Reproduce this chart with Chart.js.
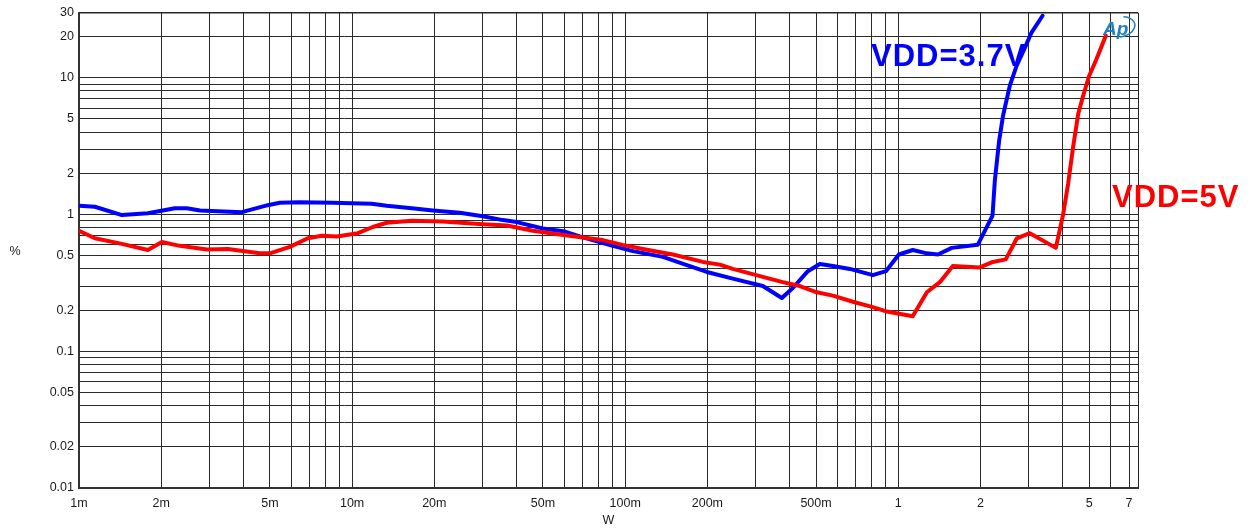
<!DOCTYPE html>
<html>
<head>
<meta charset="utf-8">
<script src="https://cdn.jsdelivr.net/npm/chart.js@4/dist/chart.umd.min.js"></script>
<style>
  html, body { margin: 0; padding: 0; background: #fff; }
  #wrap { width: 1253px; height: 529px; }
</style>
</head>
<body>
<div id="wrap"><canvas id="thd"></canvas></div>
<script>
// output power (W) vs THD+N (%)
var vdd37Watts = [0.001, 0.001143, 0.001436, 0.001787, 0.002244, 0.002483, 0.002773, 0.003948, 0.004909, 0.005431,
  0.006427, 0.008492, 0.009954, 0.0118, 0.01339, 0.01655, 0.01977, 0.02479, 0.0301, 0.03565,
  0.04011, 0.04996, 0.06016, 0.06999, 0.09013, 0.1067, 0.1374, 0.1725, 0.1991, 0.2478,
  0.3192, 0.3748, 0.4111, 0.4667, 0.5164, 0.5764, 0.6652, 0.8072, 0.9012, 1.005,
  1.13, 1.273, 1.397, 1.571, 1.955, 2.214, 2.258, 2.341, 2.42, 2.562, 2.711, 2.91, 3.076, 3.376];
var vdd37Thd = [1.16, 1.14, 0.99, 1.02, 1.11, 1.11, 1.07, 1.04, 1.17, 1.22,
  1.23, 1.22, 1.21, 1.20, 1.16, 1.11, 1.07, 1.03, 0.97, 0.91,
  0.88, 0.79, 0.75, 0.68, 0.59, 0.54, 0.49, 0.42, 0.38, 0.34,
  0.30, 0.245, 0.29, 0.385, 0.435, 0.42, 0.40, 0.36, 0.385, 0.51,
  0.55, 0.52, 0.51, 0.57, 0.60, 0.98, 1.77, 3.46, 5.3, 8.75, 12.2, 16.6, 21.4, 28.4];

var vdd5Watts = [0.001, 0.001143, 0.001436, 0.001787, 0.002012, 0.002339, 0.002938, 0.003507, 0.003981, 0.004594,
  0.004999, 0.005917, 0.006888, 0.007747, 0.008795, 0.0105, 0.01191, 0.01339, 0.01655, 0.02149,
  0.0301, 0.03687, 0.04592, 0.05569, 0.06999, 0.08279, 0.09795, 0.1161, 0.1495, 0.1926,
  0.2223, 0.2478, 0.3192, 0.3776, 0.436, 0.5032, 0.5764, 0.6823, 0.8072, 0.9085,
  1.13, 1.273, 1.42, 1.584, 1.989, 2.22, 2.476, 2.718, 3.033, 3.776,
  4.016, 4.187, 4.367, 4.56, 4.754, 5.0, 5.322, 5.754];
var vdd5Thd = [0.76, 0.67, 0.61, 0.55, 0.63, 0.59, 0.555, 0.56, 0.54, 0.52,
  0.52, 0.58, 0.67, 0.70, 0.69, 0.73, 0.81, 0.87, 0.90, 0.89,
  0.85, 0.83, 0.76, 0.72, 0.68, 0.65, 0.60, 0.56, 0.51, 0.45,
  0.43, 0.40, 0.35, 0.32, 0.30, 0.27, 0.255, 0.23, 0.21, 0.195,
  0.18, 0.27, 0.32, 0.42, 0.41, 0.45, 0.47, 0.67, 0.73, 0.57,
  1.0, 1.67, 3.1, 5.43, 7.39, 10.3, 13.7, 20.3];

var xTickValues = [0.001, 0.002, 0.005, 0.01, 0.02, 0.05, 0.1, 0.2, 0.5, 1, 2, 5, 7];
var xTickLabels = ['1m', '2m', '5m', '10m', '20m', '50m', '100m', '200m', '500m', '1', '2', '5', '7'];
var yTickValues = [0.01, 0.02, 0.05, 0.1, 0.2, 0.5, 1, 2, 5, 10, 20, 30];
var yTickLabels = ['0.01', '0.02', '0.05', '0.1', '0.2', '0.5', '1', '2', '5', '10', '20', '30'];

function pts(xs, ys) {
  return xs.map(function (x, i) { return { x: x, y: ys[i] }; });
}

// grid line at every 1..9 step of each decade
function decadeGrid(min, max) {
  var out = [];
  for (var e = Math.floor(Math.log10(min)); e <= Math.ceil(Math.log10(max)); e++) {
    for (var s = 1; s <= 9; s++) {
      var v = +(s * Math.pow(10, e)).toPrecision(6);
      if (v >= min - 1e-12 && v <= max + 1e-9) out.push(v);
    }
  }
  return out;
}

function labelFor(values, labels, v) {
  for (var i = 0; i < values.length; i++) {
    if (Math.abs(values[i] - v) / values[i] < 1e-6) return labels[i];
  }
  return '';
}

var xMin = 0.001, xMax = 7.55, yMin = 0.01, yMax = 30;
var tickFont = { family: 'Liberation Sans, Arial, sans-serif', size: 12.5 };

var decor = {
  id: 'decor',
  beforeDatasetsDraw: function (chart) {
    var a = chart.chartArea, c = chart.ctx;
    c.save();
    c.strokeStyle = '#222';
    c.lineWidth = 1;
    c.beginPath();
    c.moveTo(a.left, a.top + 0.5);
    c.lineTo(a.right + 0.5, a.top + 0.5);
    c.lineTo(a.right + 0.5, a.bottom);
    c.stroke();
    c.restore();
  },
  afterDraw: function (chart) {
    var c = chart.ctx;
    c.save();
    c.fillStyle = '#222';
    c.font = '12.5px Liberation Sans, Arial, sans-serif';
    c.textAlign = 'center';
    c.textBaseline = 'middle';
    c.fillText('%', 15, 252);

    c.textAlign = 'left';
    c.textBaseline = 'alphabetic';
    c.font = 'bold 31px Liberation Sans, Arial, sans-serif';
    c.letterSpacing = '1px';
    c.fillStyle = '#0000ff';
    c.fillText('VDD=3.7V', 871, 66);
    c.fillStyle = '#ff0000';
    c.fillText('VDD=5V', 1112, 207);
    c.letterSpacing = '0px';

    // Ap logo
    c.fillStyle = '#1f7fbf';
    c.strokeStyle = '#1f7fbf';
    c.font = 'italic bold 19px Liberation Sans, Arial, sans-serif';
    c.fillText('Ap', 1103, 35);
    c.lineWidth = 1.5;
    c.beginPath();
    c.ellipse(1120, 27, 15, 10, -0.2, -1.2, 1.7);
    c.stroke();
    c.restore();
  }
};

new Chart(document.getElementById('thd'), {
  type: 'line',
  data: {
    datasets: [
      {
        label: 'VDD=5V',
        data: pts(vdd5Watts, vdd5Thd),
        borderColor: '#ff0000',
        borderWidth: 4,
        pointRadius: 0,
        tension: 0,
        borderJoinStyle: 'round',
        borderCapStyle: 'round'
      },
      {
        label: 'VDD=3.7V',
        data: pts(vdd37Watts, vdd37Thd),
        borderColor: '#0000ff',
        borderWidth: 4,
        pointRadius: 0,
        tension: 0,
        borderJoinStyle: 'round',
        borderCapStyle: 'round'
      }
    ]
  },
  options: {
    responsive: true,
    maintainAspectRatio: false,
    animation: false,
    layout: { padding: { left: 0, right: 115, top: 12, bottom: 0 } },
    plugins: { legend: { display: false }, tooltip: { enabled: false } },
    scales: {
      x: {
        type: 'logarithmic',
        min: xMin,
        max: xMax,
        afterBuildTicks: function (s) { s.ticks = decadeGrid(xMin, xMax).map(function (v) { return { value: v }; }); },
        afterFit: function (s) { s.height = 41; },
        ticks: {
          autoSkip: false,
          maxRotation: 0,
          padding: 8,
          color: '#1a1a1a',
          font: tickFont,
          callback: function (v) { return labelFor(xTickValues, xTickLabels, v); }
        },
        grid: { color: '#2a2a2a', lineWidth: 1, drawTicks: false },
        border: { color: '#333', width: 2 },
        title: { display: true, text: 'W', color: '#1a1a1a', font: tickFont, padding: { top: 0, bottom: 1 } }
      },
      y: {
        type: 'logarithmic',
        min: yMin,
        max: yMax,
        afterBuildTicks: function (s) { s.ticks = decadeGrid(yMin, yMax).map(function (v) { return { value: v }; }); },
        afterFit: function (s) { s.width = 79; },
        ticks: {
          autoSkip: false,
          padding: 5,
          color: '#1a1a1a',
          font: tickFont,
          callback: function (v) { return labelFor(yTickValues, yTickLabels, v); }
        },
        grid: { color: '#2a2a2a', lineWidth: 1, drawTicks: false },
        border: { color: '#333', width: 2 }
      }
    }
  },
  plugins: [decor]
});
</script>
</body>
</html>
